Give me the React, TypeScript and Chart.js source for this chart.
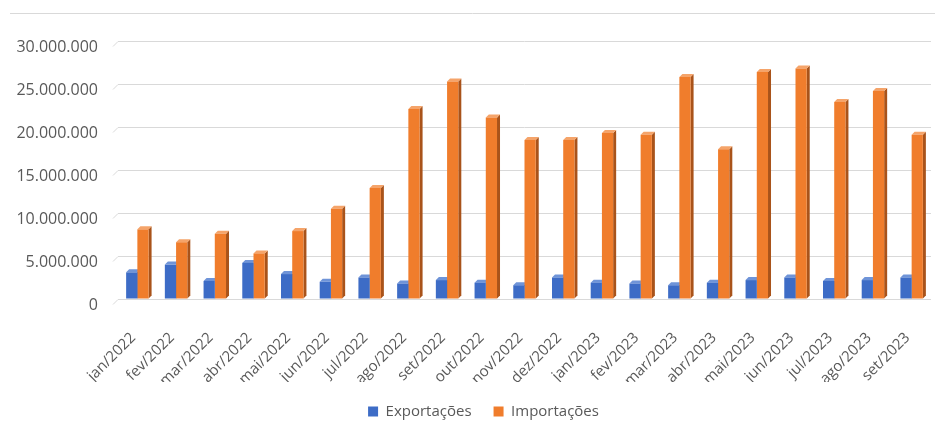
import React, { useEffect, useRef } from "react";
import { Chart, registerables } from "chart.js";

Chart.register(...registerables);

const categories = [
  "jan/2022", "fev/2022", "mar/2022", "abr/2022", "mai/2022", "jun/2022", "jul/2022",
  "ago/2022", "set/2022", "out/2022", "nov/2022", "dez/2022", "jan/2023", "fev/2023",
  "mar/2023", "abr/2023", "mai/2023", "jun/2023", "jul/2023", "ago/2023", "set/2023",
];

const exportacoes = [
  3100000, 4000000, 2100000, 4200000, 2900000, 2000000, 2500000,
  1800000, 2200000, 1900000, 1600000, 2500000, 1900000, 1800000,
  1600000, 1900000, 2200000, 2500000, 2100000, 2200000, 2500000,
];

const importacoes = [
  8100000, 6600000, 7600000, 5300000, 7900000, 10500000, 12900000,
  22100000, 25300000, 21100000, 18500000, 18500000, 19300000, 19100000,
  25800000, 17400000, 26400000, 26800000, 22900000, 24200000, 19100000,
];

const yTickValues = [0, 5000000, 10000000, 15000000, 20000000, 25000000, 30000000];

const FRONT = ["#3d6cc6", "#f07d2c"];
const SIDE = ["#27488a", "#a9531a"];
const TOP = ["#6f94d8", "#f5a46a"];
const TEXT = "#595959";
const GRID = "#d9d9d9";
const FONT = "'Open Sans', sans-serif";

function fmt(v: number): string {
  return String(Math.round(v)).replace(/\B(?=(\d{3})+(?!\d))/g, ".");
}

const depthPlugin = {
  id: "depth3d",
  afterLayout(chart: any) {
    const lg = chart.legend;
    if (lg) {
      lg.left += 18;
      lg.right += 18;
    }
  },
  beforeDraw(chart: any) {
    const { ctx, chartArea } = chart;
    ctx.save();
    ctx.strokeStyle = GRID;
    ctx.lineWidth = 1;
    ctx.beginPath();
    ctx.moveTo(10, 13.5);
    ctx.lineTo(935, 13.5);
    ctx.stroke();
    const ys = chart.scales.y;
    yTickValues.forEach((v) => {
      const py = Math.round(ys.getPixelForValue(v)) + 0.5;
      ctx.beginPath();
      ctx.moveTo(chartArea.left - 5, py + 5);
      ctx.lineTo(chartArea.left, py);
      ctx.stroke();
    });
    ctx.restore();
  },
  beforeDatasetsDraw(chart: any) {
    const ctx = chart.ctx;
    const d = 3;
    ctx.save();
    chart.data.datasets.forEach((_ds: any, i: number) => {
      const meta = chart.getDatasetMeta(i);
      meta.data.forEach((bar: any) => {
        const { x, y, base, width } = bar.getProps(["x", "y", "base", "width"], true);
        const l = x - width / 2;
        const r = x + width / 2;
        ctx.fillStyle = SIDE[i];
        ctx.beginPath();
        ctx.moveTo(r, base);
        ctx.lineTo(r + d, base - d);
        ctx.lineTo(r + d, y - d);
        ctx.lineTo(r, y);
        ctx.closePath();
        ctx.fill();
        ctx.fillStyle = TOP[i];
        ctx.beginPath();
        ctx.moveTo(l, y);
        ctx.lineTo(l + d, y - d);
        ctx.lineTo(r + d, y - d);
        ctx.lineTo(r, y);
        ctx.closePath();
        ctx.fill();
      });
    });
    ctx.restore();
  },
};

export default function App() {
  const canvasRef = useRef<HTMLCanvasElement | null>(null);

  useEffect(() => {
    document.body.style.margin = "0";
    const canvas = canvasRef.current;
    if (!canvas) return;
    const chart = new Chart(canvas, {
      type: "bar",
      data: {
        labels: categories,
        datasets: [
          {
            label: "Exportações",
            data: exportacoes,
            backgroundColor: FRONT[0],
            categoryPercentage: 0.58,
            barPercentage: 1,
          },
          {
            label: "Importações",
            data: importacoes,
            backgroundColor: FRONT[1],
            categoryPercentage: 0.58,
            barPercentage: 1,
          },
        ],
      },
      options: {
        animation: false,
        responsive: true,
        maintainAspectRatio: false,
        layout: { padding: { top: 41, right: 4, left: 0, bottom: -8 } },
        plugins: {
          tooltip: { enabled: false },
          legend: {
            position: "bottom",
            labels: {
              boxWidth: 10,
              boxHeight: 10,
              padding: 22,
              color: TEXT,
              font: { family: FONT, size: 15 },
            },
          },
        },
        scales: {
          x: {
            grid: { display: false },
            border: { display: false },
            ticks: {
              autoSkip: false,
              maxRotation: 45,
              minRotation: 45,
              padding: 22,
              labelOffset: -4,
              color: TEXT,
              font: { family: FONT, size: 15 },
            },
            afterFit: (s: any) => {
              s.height = 83;
              s.paddingLeft = 0;
              s.paddingRight = 0;
            },
          },
          y: {
            min: 0,
            max: 30000000,
            grid: { color: GRID, drawTicks: false, lineWidth: 1 },
            border: { display: false },
            afterBuildTicks: (s: any) => {
              s.ticks = yTickValues.map((v) => ({ value: v }));
            },
            ticks: {
              padding: 20,
              labelOffset: 6,
              color: TEXT,
              font: { family: FONT, size: 16 },
              callback: (v: any) => fmt(Number(v)),
            },
            afterFit: (s: any) => {
              s.width = 118;
            },
          },
        },
      },
      plugins: [depthPlugin],
    });
    return () => chart.destroy();
  }, []);

  return (
    <div style={{ position: "relative", width: 935, height: 421, background: "#ffffff" }}>
      <canvas ref={canvasRef} />
    </div>
  );
}
